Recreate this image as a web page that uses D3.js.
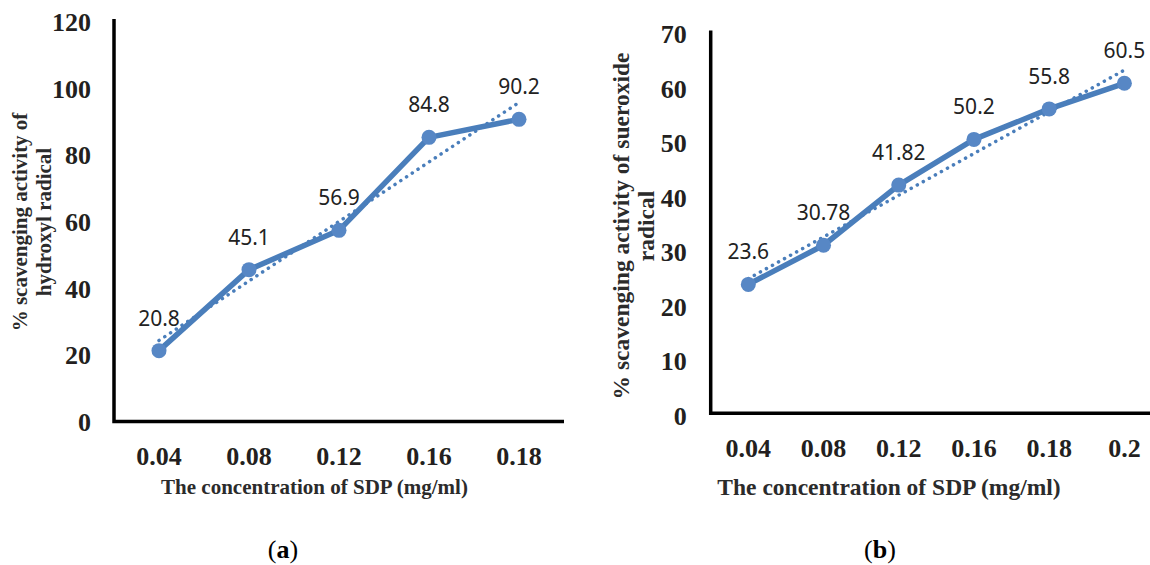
<!DOCTYPE html>
<html>
<head>
<meta charset="utf-8">
<script src="https://cdn.jsdelivr.net/npm/d3@7"></script>
<style>
  html, body { margin: 0; padding: 0; background: #fff; }
  svg { display: block; }
</style>
</head>
<body>
<svg id="chart" width="1150" height="565"></svg>
<script>
// ---------- DATA ----------
const categoriesA = ["0.04", "0.08", "0.12", "0.16", "0.18"];
const valuesA = [20.8, 45.1, 56.9, 84.8, 90.2];
const labelsA = ["20.8", "45.1", "56.9", "84.8", "90.2"];
const yTicksA = [0, 20, 40, 60, 80, 100, 120];

const categoriesB = ["0.04", "0.08", "0.12", "0.16", "0.18", "0.2"];
const valuesB = [23.6, 30.78, 41.82, 50.2, 55.8, 60.5];
const labelsB = ["23.6", "30.78", "41.82", "50.2", "55.8", "60.5"];
const yTicksB = [0, 10, 20, 30, 40, 50, 60, 70];

const xTitle = "The concentration of SDP (mg/ml)";
const yTitleA = ["% scavenging activity of", "hydroxyl radical"];
const yTitleB = ["% scavenging activity of sueroxide", "radical"];
const panelA = "a";
const panelB = "b";

// ---------- STYLE ----------
const LINE = "#4A7EBB";
const MARK = "#5787C5";
const TEXT = "#231f20";
const SERIF = "'Liberation Serif', 'Times New Roman', serif";
const SANS = "'Noto Sans', 'Open Sans', sans-serif";

const svg = d3.select("#chart");

// least-squares linear trend over category index (as a spreadsheet trendline does)
function linearTrend(vals) {
  const n = vals.length;
  const xs = d3.range(1, n + 1);
  const mx = d3.mean(xs), my = d3.mean(vals);
  const sxy = d3.sum(xs, (x, i) => (x - mx) * (vals[i] - my));
  const sxx = d3.sum(xs, x => (x - mx) * (x - mx));
  const b = sxy / sxx, a = my - b * mx;
  return xs.map(x => a + b * x);
}

function drawPanel(cfg) {
  const g = svg.append("g");
  const x = d3.scaleBand().domain(cfg.categories).range([cfg.x0, cfg.x1]).padding(0);
  const y = d3.scaleLinear().domain([0, cfg.yMax]).range([cfg.y0, cfg.yTop]);
  const cx = c => x(c) + x.bandwidth() / 2;

  // y tick labels
  g.selectAll("text.ytick").data(cfg.yTicks).join("text")
    .attr("class", "ytick")
    .attr("x", cfg.x0 - cfg.yLabelGap)
    .attr("y", d => y(d) + cfg.yLabelShift)
    .attr("text-anchor", "end")
    .attr("dominant-baseline", "central")
    .attr("font-family", SERIF).attr("font-weight", "bold")
    .attr("font-size", 26).attr("fill", TEXT)
    .text(d => d);

  // x tick labels
  g.selectAll("text.xtick").data(cfg.categories).join("text")
    .attr("class", "xtick")
    .attr("x", d => cx(d))
    .attr("y", cfg.axisY + 35)
    .attr("text-anchor", "middle")
    .attr("dominant-baseline", "central")
    .attr("font-family", SERIF).attr("font-weight", "bold")
    .attr("font-size", 26).attr("fill", TEXT)
    .text(d => d);

  // axes lines (L-shape)
  g.append("path")
    .attr("d", `M${cfg.x0},${y(cfg.yMax) - 1} L${cfg.x0},${cfg.axisY} L${cfg.x1},${cfg.axisY}`)
    .attr("fill", "none").attr("stroke", "#000").attr("stroke-width", 3.5)
    .attr("stroke-linejoin", "miter");

  // trendline (dotted)
  const trend = linearTrend(cfg.values);
  const line = d3.line().x(d => cx(d[0])).y(d => y(d[1]));
  g.append("path")
    .attr("d", line(cfg.categories.map((c, i) => [c, trend[i]])))
    .attr("fill", "none").attr("stroke", LINE).attr("stroke-width", 3.5)
    .attr("stroke-linecap", "round").attr("stroke-dasharray", "0.1 6.8");

  // main series line
  g.append("path")
    .attr("d", line(cfg.categories.map((c, i) => [c, cfg.values[i]])))
    .attr("fill", "none").attr("stroke", LINE).attr("stroke-width", 5.5)
    .attr("stroke-linejoin", "round");

  // markers
  g.selectAll("circle.pt").data(cfg.categories).join("circle")
    .attr("class", "pt")
    .attr("cx", d => cx(d))
    .attr("cy", (d, i) => y(cfg.values[i]))
    .attr("r", 7.5).attr("fill", MARK);

  // data labels
  g.selectAll("text.dl").data(cfg.categories).join("text")
    .attr("class", "dl")
    .attr("x", d => cx(d))
    .attr("y", (d, i) => y(cfg.values[i]) - 33)
    .attr("text-anchor", "middle")
    .attr("dominant-baseline", "central")
    .attr("font-family", SANS).attr("font-size", 21).attr("fill", "#222")
    .text((d, i) => cfg.labels[i]);

  // x axis title
  g.append("text")
    .attr("x", cfg.xTitleX).attr("y", 487)
    .attr("text-anchor", "middle").attr("dominant-baseline", "central")
    .attr("font-family", SERIF).attr("font-weight", "bold")
    .attr("font-size", cfg.titleSize).attr("fill", "#2b2b2b")
    .text(xTitle);

  // y axis title (two lines, rotated)
  const yt = g.append("text")
    .attr("transform", `translate(${cfg.yTitleX},${cfg.yTitleY}) rotate(-90)`)
    .attr("text-anchor", "middle")
    .attr("font-family", SERIF).attr("font-weight", "bold")
    .attr("font-size", cfg.titleSize).attr("fill", "#2b2b2b");
  cfg.yTitle.forEach((t, i) => {
    yt.append("tspan").attr("x", 0).attr("y", i * cfg.yTitleLead)
      .attr("dominant-baseline", "central").text(t);
  });

  // panel label
  const pl = g.append("text")
    .attr("x", cfg.panelX).attr("y", 549)
    .attr("text-anchor", "middle").attr("dominant-baseline", "central")
    .attr("font-family", SERIF).attr("font-size", 26).attr("fill", "#000");
  pl.append("tspan").text("(");
  pl.append("tspan").attr("font-weight", "bold").text(cfg.panel);
  pl.append("tspan").text(")");
}

drawPanel({
  categories: categoriesA, values: valuesA, labels: labelsA, yTicks: yTicksA,
  yMax: 120, x0: 114, x1: 564, y0: 420, yTop: 20, axisY: 421.5,
  yLabelGap: 23, yLabelShift: 2.5,
  xTitleX: 314.5, titleSize: 21,
  yTitle: yTitleA, yTitleX: 20, yTitleY: 222, yTitleLead: 24,
  panel: panelA, panelX: 283
});

drawPanel({
  categories: categoriesB, values: valuesB, labels: labelsB, yTicks: yTicksB,
  yMax: 70, x0: 710.7, x1: 1162, y0: 413, yTop: 31.5, axisY: 413.3,
  yLabelGap: 24, yLabelShift: 3,
  xTitleX: 889, titleSize: 23.5,
  yTitle: yTitleB, yTitleX: 621, yTitleY: 226, yTitleLead: 25,
  panel: panelB, panelX: 880
});
</script>
</body>
</html>
